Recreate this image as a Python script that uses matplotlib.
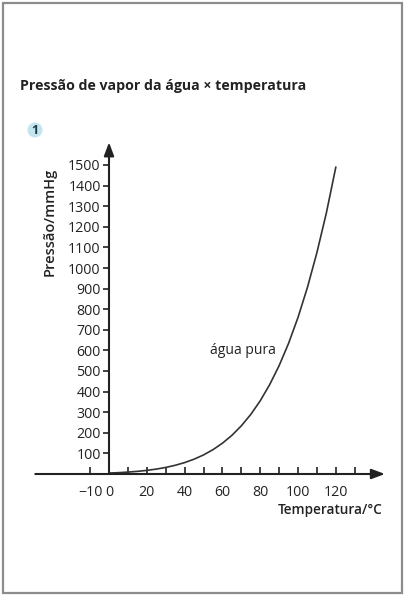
import matplotlib.pyplot as plt
from matplotlib.patches import Rectangle, Ellipse

# vapour pressure of pure water (mmHg) vs temperature (°C)
temperatura = [0, 5, 10, 15, 20, 25, 30, 35, 40, 45, 50, 55, 60,
               65, 70, 75, 80, 85, 90, 95, 100, 105, 110, 115, 120]
pressao = [4.6, 6.5, 9.2, 12.8, 17.5, 23.8, 31.8, 42.2, 55.3, 71.9, 92.5, 118.0, 149.4,
           187.5, 233.7, 289.1, 355.1, 433.6, 525.8, 633.9, 760.0, 906.1, 1074.6, 1267.0, 1489.0]

x_ticks = list(range(-10, 140, 10))
x_labels = ['\u221210', '0', '', '20', '', '40', '', '60', '', '80', '', '100', '', '120', '']
y_ticks = list(range(100, 1600, 100))
y_labels = [str(v) for v in y_ticks]

titulo = 'Pressão de vapor da água \u00d7 temperatura'
rotulo_x = 'Temperatura/°C'
rotulo_y = 'Pressão/mmHg'
rotulo_curva = 'água pura'

plt.rcParams['font.family'] = ['Open Sans', 'DejaVu Sans']
ink = '#222222'

W, H = 408, 599
fig = plt.figure(figsize=(W / 100, H / 100), dpi=100)

# axes placed so that 0 °C sits at px 109 and 0 mmHg at px 474
xmin, xmax = -40, 147
ymin, ymax = -60, 1620
sx, sy = 1.89, 0.206
left = 109 + sx * xmin
right = 109 + sx * xmax
bottom = 474 - sy * ymin
top = 474 - sy * ymax
ax = fig.add_axes([left / W, 1 - bottom / H, (right - left) / W, (bottom - top) / H])
ax.set_xlim(xmin, xmax)
ax.set_ylim(ymin, ymax)
ax.patch.set_alpha(0)

for s in ax.spines.values():
    s.set_visible(False)
ax.spines['bottom'].set_position(('data', 0))
ax.spines['left'].set_position(('data', 0))

ax.set_xticks(x_ticks)
ax.set_xticklabels(x_labels)
ax.set_yticks(y_ticks)
ax.set_yticklabels(y_labels)
ax.tick_params(axis='x', direction='in', length=5, width=1.2, color=ink, pad=8,
               labelsize=10.2, labelcolor=ink)
ax.tick_params(axis='y', direction='out', length=4, width=1.2, color=ink, pad=2,
               labelsize=10.2, labelcolor=ink)
for lab in ax.get_xticklabels() + ax.get_yticklabels():
    lab.set_fontweight('medium')

# axis lines with arrow heads
ax.annotate('', xy=(146, 0), xytext=(-39, 0),
            arrowprops=dict(arrowstyle='-|>,head_length=0.8,head_width=0.3',
                            color=ink, lw=1.5, shrinkA=0, shrinkB=0))
ax.annotate('', xy=(0, 1610), xytext=(0, 0),
            arrowprops=dict(arrowstyle='-|>,head_length=0.8,head_width=0.3',
                            color=ink, lw=1.5, shrinkA=0, shrinkB=0))

ax.plot(temperatura, pressao, color='#333333', lw=1.2)
ax.text(71, 600, rotulo_curva, fontsize=10, color=ink, ha='center', va='center')

fig.text(382 / W, 1 - 510 / H, rotulo_x, fontsize=9.8, fontweight='semibold',
         color=ink, ha='right', va='center')
fig.text(50 / W, 1 - 222 / H, rotulo_y, fontsize=10.5, fontweight='semibold',
         color=ink, ha='center', va='center', rotation=90)
fig.text(20 / W, 1 - 86 / H, titulo, fontsize=10.2, fontweight='bold',
         color=ink, ha='left', va='center')

# numbered badge
fig.patches.append(Ellipse((35 / W, 1 - 130 / H), 15 / W, 15 / H, transform=fig.transFigure,
                           facecolor='#c2e5ee', edgecolor='none'))
fig.text(35 / W, 1 - 130 / H, '1', fontsize=9, fontweight='bold', color='#1d3a4a',
         ha='center', va='center')

# page frame
fig.patches.append(Rectangle((3 / W, 1 - 593 / H), 399 / W, 590 / H, transform=fig.transFigure,
                             fill=False, edgecolor='#8c8c8c', lw=1.6))

fig.savefig('out.png', dpi=100)
